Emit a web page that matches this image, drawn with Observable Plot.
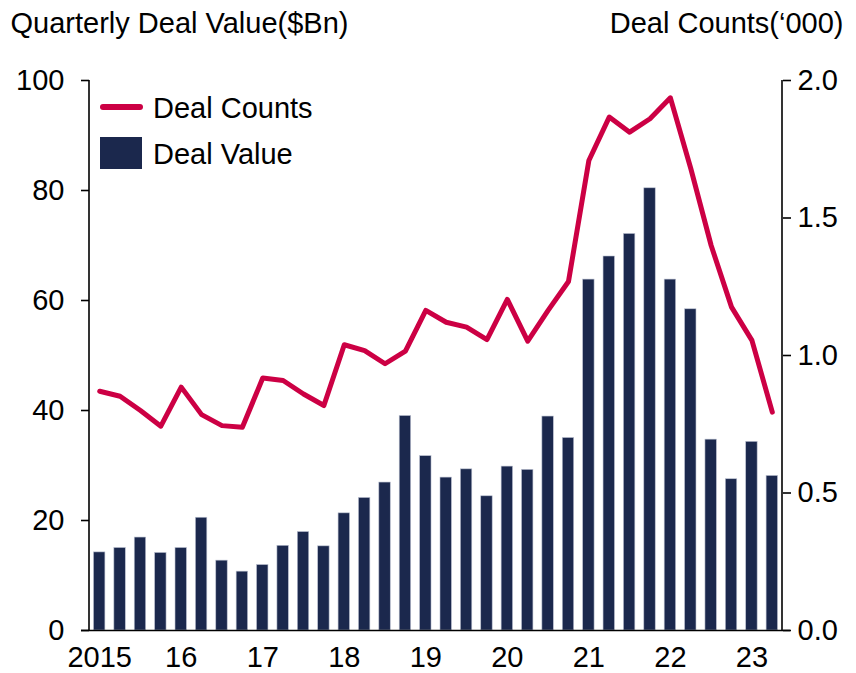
<!DOCTYPE html>
<html>
<head>
<meta charset="utf-8">
<script src="https://cdn.jsdelivr.net/npm/d3@7"></script>
<script src="https://cdn.jsdelivr.net/npm/@observablehq/plot@0.6"></script>
<style>
  html, body { margin: 0; padding: 0; background: #fff; }
  #chart svg { display: block; font-family: "Liberation Sans", Arial, sans-serif; }
</style>
</head>
<body>
<div id="chart"></div>
<script>
const quarters = [
  "2015Q1","2015Q2","2015Q3","2015Q4","2016Q1","2016Q2","2016Q3","2016Q4",
  "2017Q1","2017Q2","2017Q3","2017Q4","2018Q1","2018Q2","2018Q3","2018Q4",
  "2019Q1","2019Q2","2019Q3","2019Q4","2020Q1","2020Q2","2020Q3","2020Q4",
  "2021Q1","2021Q2","2021Q3","2021Q4","2022Q1","2022Q2","2022Q3","2022Q4",
  "2023Q1","2023Q2"
];
const dealValue = [14.2,15.0,16.9,14.1,15.0,20.5,12.7,10.7,11.9,15.4,17.9,15.3,21.3,24.1,26.9,39.0,31.7,27.8,29.3,24.4,29.8,29.2,38.9,35.0,63.8,68.0,72.1,80.4,63.8,58.4,34.7,27.5,34.3,28.1];
const dealCounts = [0.870,0.852,0.800,0.743,0.885,0.785,0.745,0.739,0.918,0.909,0.860,0.818,1.039,1.018,0.970,1.016,1.164,1.121,1.103,1.058,1.204,1.052,1.164,1.269,1.709,1.867,1.812,1.861,1.937,1.680,1.400,1.176,1.055,0.794];
const xTickQuarters = ["2015Q1","2016Q1","2017Q1","2018Q1","2019Q1","2020Q1","2021Q1","2022Q1","2023Q1"];
const xTickLabels = ["2015","16","17","18","19","20","21","22","23"];
const leftTicks = [0,20,40,60,80,100];
const rightTicks = [0,0.5,1.0,1.5,2.0];
const leftTitle = "Quarterly Deal Value($Bn)";
const rightTitle = "Deal Counts(\u2018000)";
const seriesNames = ["Deal Counts","Deal Value"];

const navy = "#1b284d";
const red = "#cc0044";
const scaleFactor = 100 / 2.0; // right axis max maps to left axis max

const rows = quarters.map((q, i) => ({q, value: dealValue[i], count: dealCounts[i]}));

const W = 856, H = 673;
const mL = 89, mR = 74, mT = 80, mB = 43;
const FS = 29;
const FONT = '"Liberation Sans", Arial, sans-serif';

const plot = Plot.plot({
  width: W,
  height: H,
  marginLeft: mL,
  marginRight: mR,
  marginTop: mT,
  marginBottom: mB,
  style: {fontFamily: FONT, fontSize: FS + "px", color: "#000", background: "#fff", overflow: "visible"},
  x: {type: "band", domain: quarters, paddingInner: 0.44, paddingOuter: 0.22, round: false, axis: null, label: null},
  y: {domain: [0, 100], axis: null, label: null},
  marks: [
    Plot.barY(rows, {x: "q", y: "value", fill: navy, stroke: "#b9bfcf", strokeWidth: 0.6}),
    Plot.line(rows, {x: "q", y: d => d.count * scaleFactor, stroke: red, strokeWidth: 5, strokeLinejoin: "round", strokeLinecap: "round"}),
    Plot.axisY({anchor: "left", label: null, ticks: leftTicks, tickSize: 8, tickPadding: 17, stroke: "#000", strokeWidth: 1.6, strokeOpacity: 1, fontSize: FS, tickFormat: d => String(d)}),
    Plot.axisY({anchor: "right", label: null, ticks: rightTicks.map(v => v * scaleFactor), tickSize: 8, tickPadding: 7, stroke: "#000", strokeWidth: 1.6, strokeOpacity: 1, fontSize: FS, tickFormat: d => (d / scaleFactor).toFixed(1)}),
    Plot.axisX({anchor: "bottom", label: null, ticks: xTickQuarters, tickSize: 0, tickPadding: 16, fontSize: FS, tickFormat: d => xTickLabels[xTickQuarters.indexOf(d)]}),
    Plot.ruleY([0], {stroke: "#000", strokeWidth: 1.6, insetLeft: -8, insetRight: -8}),
    Plot.text([leftTitle], {frameAnchor: "top-left", lineAnchor: "middle", text: d => d, dx: -79, dy: -57, textAnchor: "start", fontSize: FS, fill: "#000"}),
    Plot.text([rightTitle], {frameAnchor: "top-right", lineAnchor: "middle", text: d => d, dx: 61, dy: -57, textAnchor: "end", fontSize: FS, fill: "#000"})
  ]
});

document.getElementById("chart").appendChild(plot);

const svg = d3.select(plot);
const yS = plot.scale("y");
const yTop = yS.apply(100), yBot = yS.apply(0);

// Vertical axis lines on both sides of the frame
const ax = svg.append("g").attr("stroke", "#000").attr("stroke-width", 1.6);
ax.append("line").attr("x1", mL).attr("x2", mL).attr("y1", yTop).attr("y2", yBot);
ax.append("line").attr("x1", W - mR).attr("x2", W - mR).attr("y1", yTop).attr("y2", yBot);

// Legend (inside the plot area, top-left)
const lg = svg.append("g").attr("font-family", FONT).attr("font-size", FS).attr("text-anchor", "start").attr("fill", "#000");
lg.append("line").attr("x1", 103).attr("x2", 140).attr("y1", 107).attr("y2", 107)
  .attr("stroke", red).attr("stroke-width", 6).attr("stroke-linecap", "round");
lg.append("text").attr("x", 153).attr("y", 108).attr("dy", "0.35em").text(seriesNames[0]);
lg.append("rect").attr("x", 100).attr("y", 137).attr("width", 42).attr("height", 32).attr("fill", navy);
lg.append("text").attr("x", 153).attr("y", 154).attr("dy", "0.35em").text(seriesNames[1]);
</script>
</body>
</html>
